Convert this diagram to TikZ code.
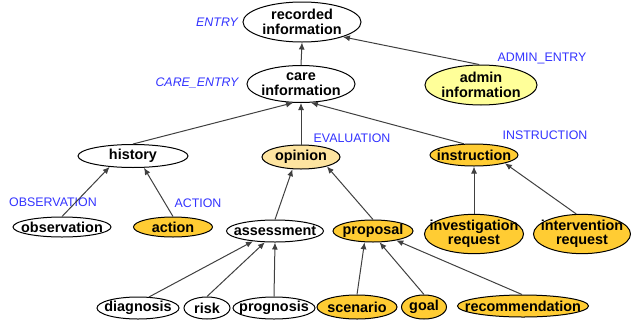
\documentclass[tikz,border=0pt]{standalone}
\usepackage{fontspec}
\setmainfont{Liberation Sans}
\usetikzlibrary{shapes.geometric,arrows.meta}
\definecolor{goldfill}{RGB}{255,204,51}
\definecolor{palefill}{RGB}{255,255,153}
\definecolor{lightfill}{RGB}{253,228,160}
\definecolor{tagblue}{RGB}{51,51,255}
\newcommand{\zw}[1]{\makebox[0pt]{#1}}
\tikzset{
  box/.style={ellipse, draw=black, line width=0.5pt, inner sep=0pt, align=center,
    font=\bfseries\fontsize{7.2}{7.2}\selectfont},
  whitebox/.style={box, fill=white},
  goldbox/.style={box, fill=goldfill},
  palebox/.style={box, fill=palefill},
  lightbox/.style={box, fill=lightfill},
  tag/.style={text=tagblue, inner sep=0pt, font=\fontsize{6.2}{7}\selectfont},
  link/.style={draw=black!75, line width=0.5pt, -{Latex[length=3.5pt,width=3pt]}}
}

\begin{document}
\begin{tikzpicture}[x=0.5pt,y=-0.5pt]
  \useasboundingbox (0,0) rectangle (631,322);

  % top levels
  \node[whitebox, minimum width=59pt, minimum height=20pt] (rec) at (302,22) {\zw{recorded}\\\zw{information}};
  \node[whitebox, minimum width=54pt, minimum height=18.5pt] (care) at (301,84) {\zw{care}\\\zw{information}};
  \node[palebox, minimum width=56pt, minimum height=20pt] (admin) at (481,85) {\zw{admin}\\\zw{information}};

  \node[whitebox, minimum width=55pt, minimum height=11.5pt] (history) at (133,156) {\zw{history}};
  \node[lightbox, minimum width=39pt, minimum height=12pt] (opinion) at (301,157) {\zw{opinion}};
  \node[goldbox, minimum width=44pt, minimum height=11pt] (instr) at (474,155) {\zw{instruction}};

  \node[whitebox, minimum width=49pt, minimum height=10pt] (obs) at (62,227) {\zw{observation}};
  \node[goldbox, minimum width=39.5pt, minimum height=10pt] (action) at (173,227) {\zw{action}};
  \node[whitebox, minimum width=48.5pt, minimum height=11pt] (assess) at (275,231) {\zw{assessment}};
  \node[goldbox, minimum width=40pt, minimum height=11pt] (proposal) at (373,231) {\zw{proposal}};
  \node[goldbox, minimum width=49.5pt, minimum height=17.5pt] (invest) at (474,234) {\zw{investigation}\\\zw{request}};
  \node[goldbox, minimum width=48.5pt, minimum height=17.5pt] (interv) at (582,234) {\zw{intervention}\\\zw{request}};

  % bottom row
  \node[whitebox, minimum width=41pt, minimum height=11pt] (diag) at (138,308) {\zw{diagnosis}};
  \node[whitebox, minimum width=23pt, minimum height=11pt] (risk) at (207,308) {\zw{risk}};
  \node[whitebox, minimum width=41pt, minimum height=11pt] (progn) at (274,308) {\zw{prognosis}};
  \node[goldbox, minimum width=40pt, minimum height=12pt] (scen) at (357,307) {\zw{scenario}};
  \node[goldbox, minimum width=22.5pt, minimum height=12pt] (goal) at (424,307) {\zw{goal}};
  \node[goldbox, minimum width=65.5pt, minimum height=11pt] (recom) at (523,306) {\zw{recommendation}};

  % class names
  \node[tag, font=\itshape\fontsize{6.2}{7}\selectfont] (tEntry) at (217,22) {ENTRY};
  \node[tag, font=\itshape\fontsize{6.2}{7}\selectfont] (tCare) at (197,83) {CARE\_ENTRY};
  \node[tag] (tAdmin) at (542,58) {ADMIN\_ENTRY};
  \node[tag] (tEval) at (352,138) {EVALUATION};
  \node[tag] (tInstr) at (545,135) {INSTRUCTION};
  \node[tag] (tObs) at (53,202) {OBSERVATION};
  \node[tag] (tAction) at (198,203) {ACTION};

  % links
  \draw[link] (care.north) -- (rec.south);
  \draw[link] (admin.95) -- (rec.340);
  \draw[link] (history.north) -- (care.247);
  \draw[link] (opinion.north) -- (care.south);
  \draw[link] (instr.132) -- (care.298);
  \draw[link] (obs.north) -- (history.205);
  \draw[link] (action.north) -- (history.313);
  \draw[link] (assess.north) -- (opinion.235);
  \draw[link] (proposal.north) -- (opinion.340);
  \draw[link] (invest.north) -- (instr.south);
  \draw[link] (interv.106) -- (instr.345);
  \draw[link] (diag.45) -- (assess.205);
  \draw[link] (risk.north) -- (assess.228);
  \draw[link] (progn.north) -- (assess.south);
  \draw[link] (scen.north) -- (proposal.233);
  \draw[link] (goal.north) -- (proposal.300);
  \draw[link] (recom.95) -- (proposal.338);
\end{tikzpicture}
\end{document}
